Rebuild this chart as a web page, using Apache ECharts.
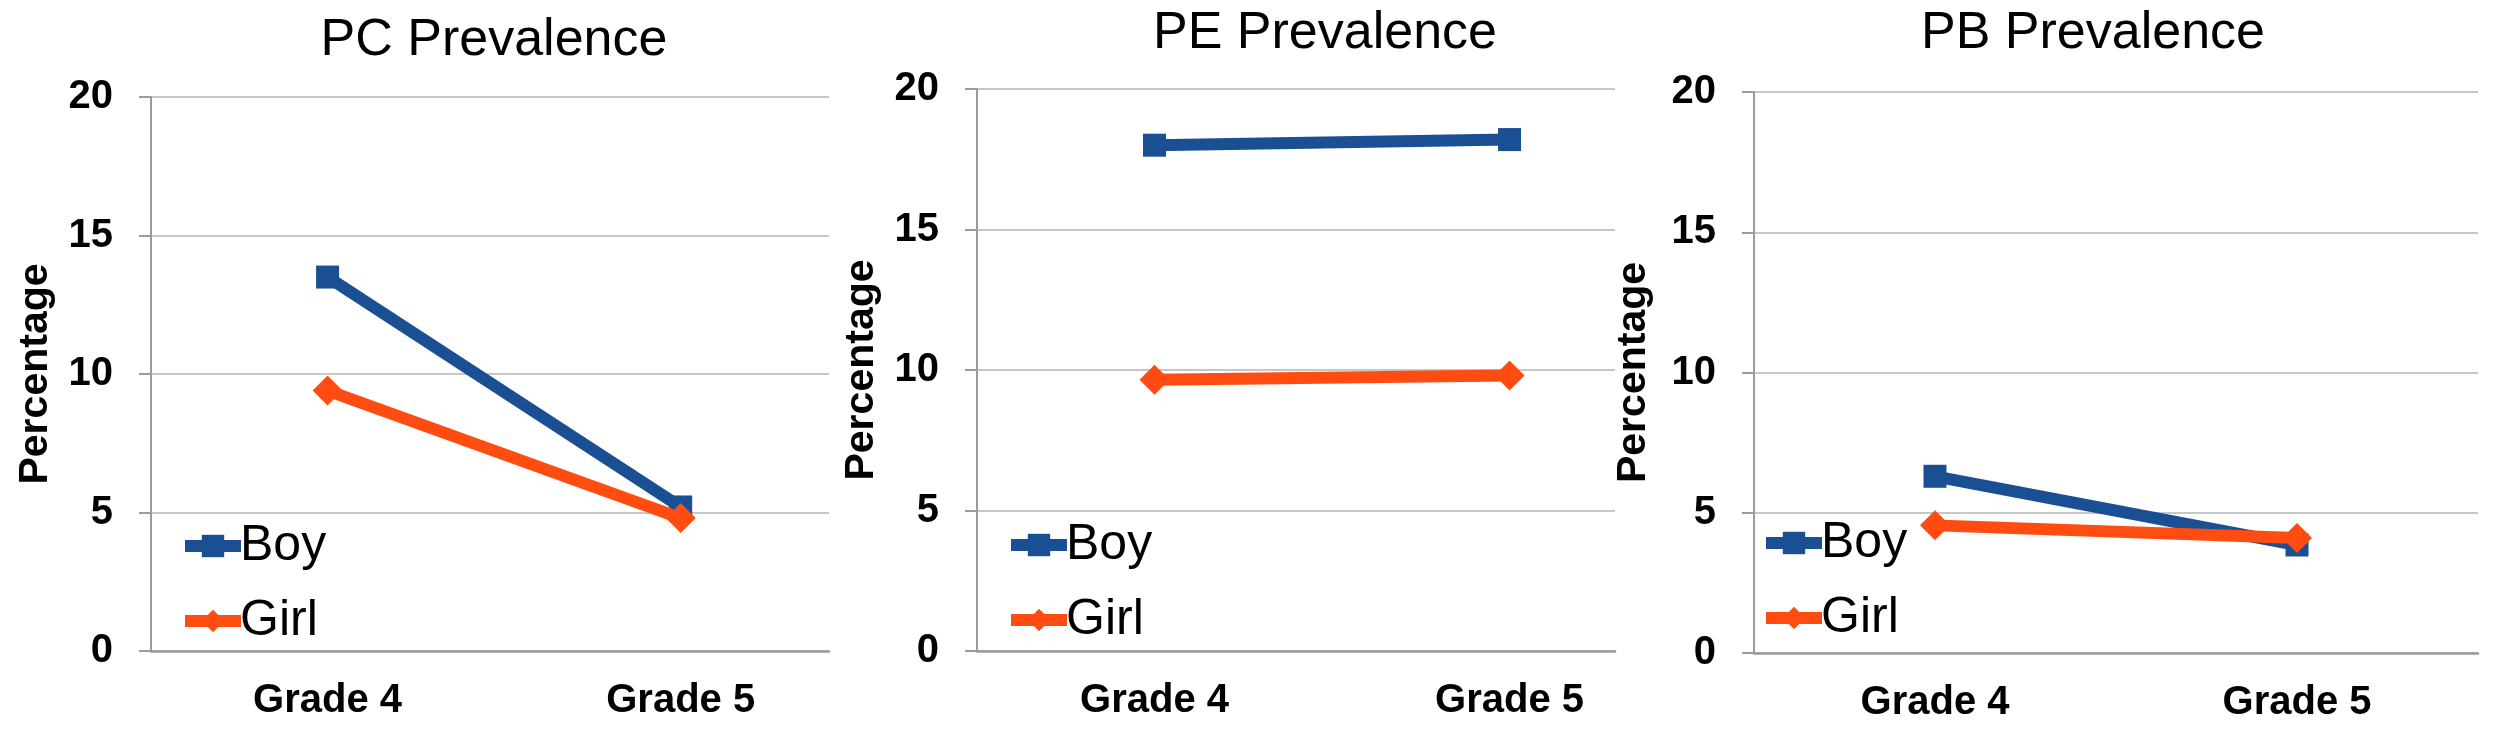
<!DOCTYPE html>
<html>
<head>
<meta charset="utf-8">
<script src="https://cdn.jsdelivr.net/npm/echarts@6/dist/echarts.min.js"></script>
<style>
html,body{margin:0;padding:0;background:#fff;}
#chart{width:2500px;height:743px;}
</style>
</head>
<body>
<div id="chart"></div>
<script>
// ---- data ----
const categories = ['Grade 4', 'Grade 5'];
const seriesNames = ['Boy', 'Girl'];
const panelTitles = ['PC Prevalence', 'PE Prevalence', 'PB Prevalence'];
const pcBoy = [13.5, 5.2];
const pcGirl = [9.4, 4.8];
const peBoy = [18.0, 18.2];
const peGirl = [9.65, 9.8];
const pbBoy = [6.3, 3.85];
const pbGirl = [4.55, 4.1];
const yTicks = [0, 5, 10, 15, 20];

// ---- layout / style ----
const FONT = '"Liberation Sans", Arial, sans-serif';
const BLUE = '#1B4F93';
const ORANGE = '#FF4D12';
const AXIS = '#9a9a9a';
const GRID = '#b4b4b4';

const panels = [
  { boy: pcBoy, girl: pcGirl, grid: { left: 151, top: 97, width: 678, height: 554 }, xmax: 1.42, titleX: 489, titleY: 10, legendLeft: 174, legendTop: 516 },
  { boy: peBoy, girl: peGirl, grid: { left: 977, top: 89, width: 638, height: 562 }, xmax: 1.297, titleX: 1320, titleY: 3, legendLeft: 1000, legendTop: 515 },
  { boy: pbBoy, girl: pbGirl, grid: { left: 1754, top: 92, width: 724, height: 561 }, xmax: 1.5, titleX: 2088, titleY: 3, legendLeft: 1755, legendTop: 513 }
];

const toPoints = vals => categories.map((c, i) => [i, vals[i]]);

const option = {
  backgroundColor: '#ffffff',
  animation: false,
  title: panels.map((p, i) => ({
    text: panelTitles[i],
    left: p.titleX,
    top: p.titleY,
    textAlign: 'center',
    textStyle: { fontFamily: FONT, fontSize: 52, fontWeight: 'normal', color: '#000' }
  })),
  legend: panels.map(p => ({
    data: seriesNames,
    orient: 'vertical',
    left: p.legendLeft,
    top: p.legendTop,
    itemWidth: 56,
    itemHeight: 28,
    itemGap: 25,
    selectedMode: false,
    lineStyle: { width: 12 },
    textStyle: { fontFamily: FONT, fontSize: 50, lineHeight: 50, color: '#000', padding: [0, 0, 0, -6] }
  })),
  grid: panels.map(p => Object.assign({ containLabel: false }, p.grid)),
  xAxis: panels.map((p, i) => ({
    type: 'value',
    gridIndex: i,
    min: -0.5,
    max: p.xmax,
    axisLine: { show: true, onZero: false, lineStyle: { color: AXIS, width: 2.5 } },
    axisTick: { show: false },
    splitLine: { show: false },
    axisLabel: {
      customValues: [0, 1],
      formatter: v => categories[Math.round(v)],
      fontFamily: FONT, fontSize: 40, fontWeight: 'bold', color: '#000',
      margin: 30
    }
  })),
  yAxis: panels.map((p, i) => ({
    type: 'value',
    gridIndex: i,
    min: 0,
    max: 20,
    interval: 5,
    name: 'Percentage',
    nameLocation: 'middle',
    nameRotate: 90,
    nameGap: i === 2 ? 100 : 95,
    nameTextStyle: { fontFamily: FONT, fontSize: 41, fontWeight: 'bold', color: '#000' },
    axisLine: { show: true, onZero: false, lineStyle: { color: AXIS, width: 2 } },
    axisTick: { show: true, inside: false, length: 12, lineStyle: { color: AXIS, width: 2 } },
    splitLine: { show: true, lineStyle: { color: GRID, width: 1.5 } },
    axisLabel: {
      customValues: yTicks,
      fontFamily: FONT, fontSize: 40, fontWeight: 'bold', color: '#000',
      margin: 38
    }
  })),
  series: []
};

panels.forEach((p, i) => {
  option.series.push({
    name: seriesNames[0], type: 'line', xAxisIndex: i, yAxisIndex: i,
    data: toPoints(p.boy),
    symbol: 'rect', symbolSize: 23,
    lineStyle: { color: BLUE, width: 12 },
    itemStyle: { color: BLUE },
    z: 2
  });
  option.series.push({
    name: seriesNames[1], type: 'line', xAxisIndex: i, yAxisIndex: i,
    data: toPoints(p.girl),
    symbol: 'diamond', symbolSize: 30,
    lineStyle: { color: ORANGE, width: 12 },
    itemStyle: { color: ORANGE },
    z: 3
  });
});

const chart = echarts.init(document.getElementById('chart'), null, { renderer: 'canvas' });
chart.setOption(option);
</script>
</body>
</html>
